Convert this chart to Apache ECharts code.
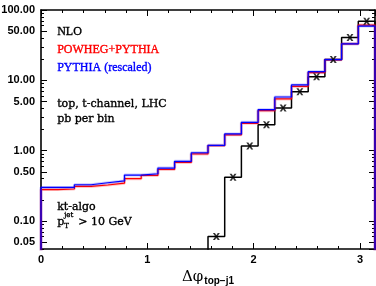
<!DOCTYPE html>
<html>
<head>
<meta charset="utf-8">
<script src="https://cdn.jsdelivr.net/npm/echarts@6/dist/echarts.min.js"></script>
<style>
  html, body { margin: 0; padding: 0; background: #fff; }
  #main { width: 376px; height: 286px; }
</style>
</head>
<body>
<div id="main"></div>
<script>
// histogram range: 20 bins from 0 to pi
const xMax = Math.PI;
const yMin = 0.04, yMax = 100;
const xTickLabels = [0, 1, 2, 3];

// pb per bin
const powheg = [0.28, 0.285, 0.31, 0.325, 0.345, 0.40, 0.445, 0.54, 0.68, 0.90,
                1.18, 1.68, 2.45, 3.7, 5.45, 8.2, 12.9, 19.6, 33, 61];
const pythia = [0.30, 0.30, 0.328, 0.35, 0.372, 0.45, 0.47, 0.565, 0.705, 0.935,
                1.19, 1.73, 2.53, 3.83, 5.8, 8.6, 13.3, 19.7, 33, 59];
const nlo = [null, null, null, null, null, null, null, null, null, null,
             0.06, 0.42, 1.17, 2.34, 4.05, 6.9, 11.2, 19.7, 40.5, 69];

const minorMults = [1, 2, 3, 4, 5, 6, 7, 8, 9];

const floorVal = 1e-4; // below the axis, gets clipped

function steps(vals) {
  const w = xMax / vals.length;
  const pts = [];
  let started = false;
  vals.forEach(function (v, i) {
    if (v == null) return;
    if (!started) { pts.push([i * w, floorVal]); started = true; }
    pts.push([i * w, v], [(i + 1) * w, v]);
  });
  pts.push([xMax, floorVal]);
  return pts;
}

function centers(vals) {
  const w = xMax / vals.length;
  const out = [];
  vals.forEach(function (v, i) { if (v != null) out.push([(i + 0.5) * w, v]); });
  return out;
}

const chart = echarts.init(document.getElementById('main'), null, { renderer: 'canvas' });

const labelFont = { color: '#000', fontSize: 11, fontWeight: 'bold', fontFamily: 'Liberation Sans' };

// log axes: one per multiplier so ticks land on k*10^n, left and right
const yAxes = [];
['left', 'right'].forEach(function (pos) {
  minorMults.forEach(function (k) {
    const major = (k === 1 || k === 5);
    yAxes.push({
      type: 'log',
      position: pos,
      min: yMin / k,
      max: yMax / k,
      axisLine: { show: k === 1, onZero: false, lineStyle: { color: '#000', width: 1.6 } },
      axisTick: { show: true, inside: true, length: major ? 6 : 3, lineStyle: { color: '#000', width: 1 } },
      axisLabel: {
        show: pos === 'left' && major,
        showMinLabel: false,
        showMaxLabel: k === 1,
        margin: 6,
        formatter: function (v) { return (v * k).toFixed(2); },
        ...labelFont
      },
      splitLine: { show: false }
    });
  });
});

function xAx(pos, interval, len, main) {
  return {
    type: 'value',
    position: pos,
    min: 0,
    max: xMax,
    interval: interval,
    axisLine: { show: main, onZero: false, lineStyle: { color: '#000', width: 1.6 } },
    axisTick: { show: true, inside: true, length: len, lineStyle: { color: '#000', width: 1 } },
    axisLabel: {
      show: main && pos === 'bottom',
      showMaxLabel: false,
      margin: 5,
      formatter: function (v) { return xTickLabels.indexOf(v) >= 0 ? String(v) : ''; },
      ...labelFont
    },
    splitLine: { show: false },
    name: (main && pos === 'bottom') ? '{a|Δφ}{b|top−j1}' : '',
    nameLocation: 'middle',
    nameGap: 15,
    nameTextStyle: {
      rich: {
        a: { fontSize: 15, fontFamily: 'DejaVu Serif', color: '#000' },
        b: { fontSize: 10, fontWeight: 'bold', fontFamily: 'Liberation Sans', color: '#000', padding: [8, 0, 0, 1] }
      }
    }
  };
}

const serif = 'Liberation Serif';

function note(text, x, y, color, font) {
  return {
    type: 'text', left: x, top: y,
    style: { text: text, fill: color, stroke: color, lineWidth: 0.35, font: font }
  };
}

const option = {
  animation: false,
  backgroundColor: '#fff',
  grid: { left: 41, right: 1, top: 10, bottom: 37, containLabel: false, outerBoundsMode: 'none' },
  xAxis: [
    xAx('bottom', 1, 6, true),
    xAx('bottom', 0.2, 3, false),
    xAx('top', 1, 6, true),
    xAx('top', 0.2, 3, false)
  ],
  yAxis: yAxes,
  graphic: [
    note('NLO', 57, 26, '#000', '12px "' + serif + '"'),
    note('POWHEG+PYTHIA', 57, 44, '#ff0000', '12px "' + serif + '"'),
    note('PYTHIA (rescaled)', 57, 62, '#0000ff', '12px "' + serif + '"'),
    note('top, t-channel, LHC', 57, 98, '#000', '11px "DejaVu Serif"'),
    note('pb per bin', 57, 113, '#000', '11px "DejaVu Serif"'),
    note('kt-algo', 57, 201, '#000', '11px "DejaVu Serif"'),
    note('p', 57, 216, '#000', '11px "DejaVu Serif"'),
    note('jet', 64, 212, '#000', '7px "DejaVu Serif"'),
    note('T', 64, 223, '#000', '7px "DejaVu Serif"'),
    note('> 10 GeV', 78, 216, '#000', '11px "DejaVu Serif"')
  ],
  series: [
    {
      name: 'NLO', type: 'line', data: steps(nlo), symbol: 'none',
      lineStyle: { color: '#000', width: 1.5 }, z: 2
    },
    {
      name: 'NLO points', type: 'scatter', data: centers(nlo),
      symbol: 'path://M0,0 L3,0 L5,3 L7,0 L10,0 L6.5,5 L10,10 L7,10 L5,7 L3,10 L0,10 L3.5,5 Z',
      symbolSize: 7, itemStyle: { color: '#000' }, z: 5
    },
    {
      name: 'POWHEG band', type: 'line', data: steps(powheg), symbol: 'none',
      lineStyle: { color: 'rgba(255,0,0,0.22)', width: 3 }, z: 3
    },
    {
      name: 'POWHEG+PYTHIA', type: 'line', data: steps(powheg), symbol: 'none',
      lineStyle: { color: '#ff0000', width: 1.2 }, z: 3
    },
    {
      name: 'PYTHIA band', type: 'line', data: steps(pythia), symbol: 'none',
      lineStyle: { color: 'rgba(0,0,255,0.22)', width: 3 }, z: 4
    },
    {
      name: 'PYTHIA (rescaled)', type: 'line', data: steps(pythia), symbol: 'none',
      lineStyle: { color: '#0000ff', width: 1.2 }, z: 4
    }
  ]
};

chart.setOption(option);
</script>
</body>
</html>
